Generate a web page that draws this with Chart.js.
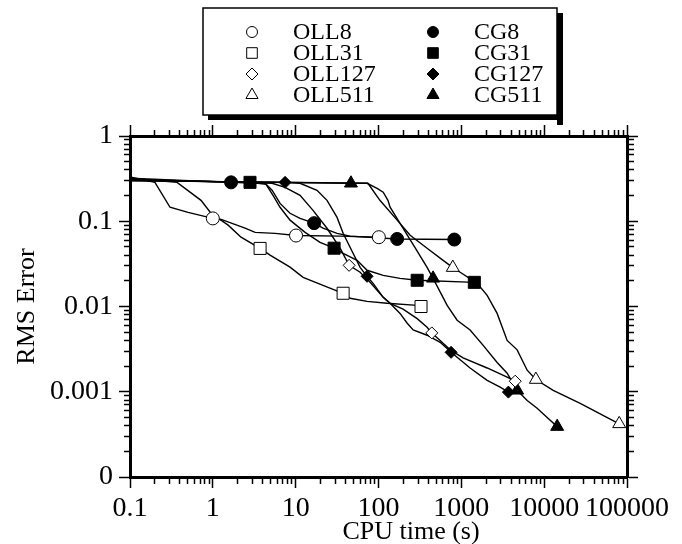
<!DOCTYPE html>
<html>
<head>
<meta charset="utf-8">
<script src="https://cdn.jsdelivr.net/npm/chart.js@4.4.0/dist/chart.umd.min.js"></script>
<style>
  html, body { margin: 0; padding: 0; background: #fff; }
  #wrap { width: 682px; height: 544px; }
</style>
</head>
<body>
<div id="wrap"><canvas id="chart" width="682" height="544"></canvas></div>
<script>
// series names, legend order (OLL column first, then CG column)
const seriesNames = ['OLL8', 'OLL31', 'OLL127', 'OLL511', 'CG8', 'CG31', 'CG127', 'CG511'];

// [cpu time (s), rms error]
const oll8 = [[0.1,0.33],[0.2,0.286],[0.304,0.146],[0.502,0.127],[1.0,0.108],[1.26,0.105],[2.45,0.083],[3.24,0.074],[5.64,0.072],[10.1,0.068],[34.4,0.067],[101,0.065]];
const oll31 = [[0.1,0.32],[0.37,0.286],[0.72,0.176],[0.95,0.124],[1.53,0.09],[2.19,0.065],[3.72,0.048],[4.91,0.04],[8.55,0.029],[12.3,0.022],[21.4,0.0177],[37.4,0.0143],[45.4,0.0125],[72.8,0.0115],[127,0.0109],[293,0.0103],[326,0.01]];
const oll127 = [[0.1,0.31],[5.19,0.279],[7.45,0.25],[11.3,0.201],[16.2,0.134],[23.9,0.0827],[34.4,0.0483],[44.2,0.0304],[60,0.0252],[79.2,0.0192],[114,0.0128],[138,0.0109],[198,0.0093],[293,0.0072],[386,0.0057],[440,0.0049],[555,0.004],[733,0.0031],[1050,0.0025],[2050,0.0019],[3573,0.00148],[4470,0.00133]];
const oll511 = [[0.1,0.30],[74.5,0.279],[104,0.176],[168,0.103],[241,0.0684],[386,0.0483],[603,0.0348],[789,0.0286],[968,0.0252],[1552,0.0187],[2050,0.0135],[2705,0.0083],[3573,0.004],[4718,0.0031],[6237,0.00179],[7940,0.00139],[12850,0.00104],[27230,0.00073],[80500,0.00042]];
const cg8 = [[0.1,0.32],[1.66,0.286],[4.27,0.279],[5.19,0.231],[6.48,0.162],[8.55,0.124],[11.3,0.108],[16.7,0.095],[21.4,0.083],[31.6,0.072],[45.4,0.067],[168,0.062],[822,0.061]];
const cg31 = [[0.1,0.31],[2.81,0.286],[4.39,0.271],[5.33,0.201],[6.48,0.146],[8.55,0.103],[13.0,0.074],[19.7,0.0566],[29.1,0.0483],[37.4,0.0421],[55.2,0.0348],[72.8,0.0266],[114,0.0232],[182,0.0214],[293,0.0203],[1435,0.0192]];
const cg127 = [[0.1,0.30],[7.45,0.286],[11.3,0.279],[18.1,0.231],[23.9,0.176],[31.6,0.111],[37.4,0.0722],[49.3,0.0421],[60,0.0288],[72.8,0.0226],[86.1,0.0187],[114,0.0128],[138,0.0109],[182,0.0083],[221,0.0064],[262,0.0053],[386,0.0046],[555,0.0038],[752,0.0029],[1276,0.0019],[2050,0.00136],[2942,0.00113],[3700,0.00099]];
const cg511 = [[0.1,0.30],[46.5,0.279],[72.8,0.279],[96.2,0.243],[114,0.219],[130,0.176],[138,0.146],[182,0.0946],[275,0.0495],[386,0.0288],[456,0.0214],[674,0.0103],[890,0.0069],[1276,0.0053],[1835,0.0035],[2705,0.0022],[3573,0.00165],[4718,0.00104],[6237,0.00079],[8226,0.00064],[10870,0.0005],[14360,0.00039]];

// which points of each curve carry a symbol
const oll8Marks = [4, 9, 11];
const oll31Marks = [6, 11, 16];
const oll127Marks = [7, 15, 21];
const oll511Marks = [7, 15, 18];
const cg8Marks = [1, 7, 11, 12];
const cg31Marks = [1, 8, 14, 15];
const cg127Marks = [1, 9, 18, 22];
const cg511Marks = [1, 10, 17, 21];

// axes
const xMajors = [0.1, 1, 10, 100, 1000, 10000, 100000];
const xTickLabels = ['0.1', '1', '10', '100', '1000', '10000', '100000'];
const yMajors = [0.0001, 0.001, 0.01, 0.1, 1];
const yTickLabels = ['0', '0.001', '0.01', '0.1', '1'];
const xTitle = 'CPU time (s)';
const yTitle = 'RMS Error';

const allSeries = [oll8, oll31, oll127, oll511, cg8, cg31, cg127, cg511];
const allMarks = [oll8Marks, oll31Marks, oll127Marks, oll511Marks, cg8Marks, cg31Marks, cg127Marks, cg511Marks];

const FONT = '"Liberation Serif", "Times New Roman", serif';
const shapes = ['circle', 'rect', 'rectRot', 'triangle'];
const plotRadius = { circle: 6.5, rect: 8.5, rectRot: 6, triangle: 7.5 };
const legendRadius = { circle: 5.5, rect: 7.5, rectRot: 6, triangle: 7 };

function isMajor(v) {
  const l = Math.log10(v);
  return Math.abs(l - Math.round(l)) < 1e-6;
}
function labelFor(v, majors, labels) {
  for (let i = 0; i < majors.length; i++) {
    if (Math.abs(Math.log10(v) - Math.log10(majors[i])) < 1e-6) return labels[i];
  }
  return '';
}
// 1..9 x 10^n ticks between the first and last major
function logTicks(majors) {
  const out = [];
  for (let i = 0; i < majors.length - 1; i++) {
    for (let k = 1; k < 10; k++) out.push({ value: majors[i] * k, major: k === 1 });
  }
  out.push({ value: majors[majors.length - 1], major: true });
  return out;
}

// ticks point outward; minor ones are cut short with a dash
function frameAxis(position, majors, extra) {
  const outerFirst = position === 'top' || position === 'left';
  return Object.assign({
    type: 'logarithmic',
    position: position,
    min: majors[0],
    max: majors[majors.length - 1],
    afterBuildTicks: s => { s.ticks = logTicks(majors); },
    border: { display: true, width: 3, color: '#000' },
    grid: {
      drawOnChartArea: false,
      drawTicks: true,
      tickLength: 11,
      tickWidth: 1.5,
      tickColor: '#000',
      tickBorderDash: c => (c.tick && !isMajor(c.tick.value)) ? (outerFirst ? [0, 5, 30, 0] : [5, 30]) : []
    },
    ticks: { display: false, autoSkip: false, maxRotation: 0, minRotation: 0 }
  }, extra);
}

function drawMarker(ctx, style, x, y, r, filled) {
  ctx.beginPath();
  if (style === 'circle') {
    ctx.arc(x, y, r, 0, Math.PI * 2);
  } else if (style === 'rect') {
    const s = r * Math.SQRT1_2;
    ctx.rect(x - s, y - s, 2 * s, 2 * s);
  } else if (style === 'rectRot') {
    ctx.moveTo(x - r, y); ctx.lineTo(x, y - r); ctx.lineTo(x + r, y); ctx.lineTo(x, y + r);
    ctx.closePath();
  } else {
    ctx.moveTo(x, y - r); ctx.lineTo(x + r * 0.866, y + r * 0.5); ctx.lineTo(x - r * 0.866, y + r * 0.5);
    ctx.closePath();
  }
  ctx.fillStyle = filled ? '#000' : '#fff';
  ctx.fill();
  ctx.lineWidth = 1;
  ctx.strokeStyle = '#000';
  ctx.stroke();
}

const datasets = allSeries.map((s, i) => {
  const style = shapes[i % 4];
  const filled = i >= 4;
  return {
    label: seriesNames[i],
    data: s.map(p => ({ x: p[0], y: p[1] })),
    borderColor: '#000',
    borderWidth: 1.4,
    tension: 0,
    fill: false,
    pointStyle: style,
    pointRadius: c => allMarks[i].includes(c.dataIndex) ? plotRadius[style] : 0,
    pointBackgroundColor: filled ? '#000' : '#fff',
    pointBorderColor: '#000',
    pointBorderWidth: 1,
    _filled: filled
  };
});

// boxed two-column key with a drop shadow, plus the x title
const keyPlugin = {
  id: 'keyBox',
  afterDraw(chart) {
    const ctx = chart.ctx;
    ctx.save();
    const bx = 203, by = 8, bw = 354, bh = 107;
    ctx.fillStyle = '#000';
    ctx.fillRect(bx + 5, by + bh, bw + 1, 5);
    ctx.fillRect(bx + bw, by + 5, 6, bh + 5);
    ctx.lineWidth = 1.5;
    ctx.strokeStyle = '#000';
    ctx.strokeRect(bx, by, bw, bh);

    const rows = [32, 53, 74, 95];
    const markX = [252, 433];
    const textX = [293, 474];
    ctx.font = '24px ' + FONT;
    ctx.textBaseline = 'middle';
    ctx.textAlign = 'left';
    chart.data.datasets.forEach((d, i) => {
      const col = Math.floor(i / 4), row = i % 4;
      drawMarker(ctx, d.pointStyle, markX[col], rows[row], legendRadius[d.pointStyle], d._filled);
      ctx.fillStyle = '#000';
      ctx.fillText(d.label, textX[col], rows[row] + 1);
    });

    ctx.font = '26px ' + FONT;
    ctx.textAlign = 'center';
    ctx.fillText(xTitle, 411, 532);
    ctx.restore();
  }
};

new Chart(document.getElementById('chart'), {
  type: 'line',
  data: { datasets: datasets },
  options: {
    responsive: false,
    animation: false,
    events: [],
    layout: { padding: 0 },
    plugins: { legend: { display: false }, tooltip: { enabled: false } },
    scales: {
      x: frameAxis('bottom', xMajors, {
        afterFit: s => { s.height = 67; },
        ticks: {
          display: true, autoSkip: false, maxRotation: 0, minRotation: 0, padding: 4,
          color: '#000', font: { family: FONT, size: 28 },
          callback: v => labelFor(v, xMajors, xTickLabels)
        }
      }),
      y: frameAxis('left', yMajors, {
        afterFit: s => { s.width = 130; },
        title: { display: true, text: yTitle, color: '#000', font: { family: FONT, size: 26 }, padding: { top: 12, bottom: 0 } },
        ticks: {
          display: true, autoSkip: false, padding: 6,
          color: '#000', font: { family: FONT, size: 28 },
          callback: v => labelFor(v, yMajors, yTickLabels)
        }
      }),
      x2: frameAxis('top', xMajors, { afterFit: s => { s.height = 136; } }),
      y2: frameAxis('right', yMajors, { afterFit: s => { s.width = 55; } })
    }
  },
  plugins: [keyPlugin]
});
</script>
</body>
</html>
